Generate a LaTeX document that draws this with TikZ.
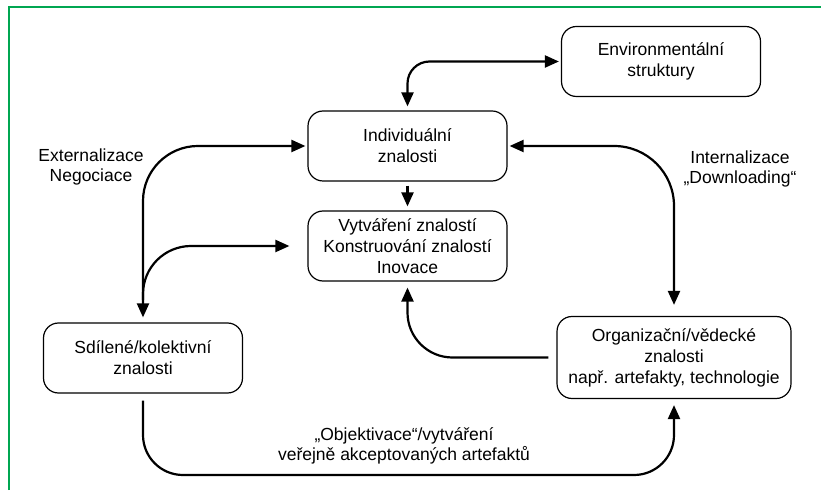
\documentclass[tikz,border=0pt]{standalone}
\usepackage{fontspec}
\setmainfont{Liberation Sans}
\usetikzlibrary{arrows.meta,positioning}
\usepackage{xcolor}
\definecolor{framegreen}{RGB}{0,166,81}

\begin{document}
\begin{tikzpicture}[x=1pt,y=1pt,
  box/.style={draw=black,line width=1.2pt,rectangle,rounded corners=15pt,
              minimum width=199pt,minimum height=70pt,align=center,
              font=\fontsize{17.5}{21}\selectfont},
  lbl/.style={align=center,font=\fontsize{17.5}{20}\selectfont},
  arr/.style={-{Triangle[length=14pt,width=12pt]},line width=2.2pt},
  biarr/.style={{Triangle[length=14pt,width=12pt]}-{Triangle[length=14pt,width=12pt]},line width=2.2pt}
]
  \useasboundingbox (0,0) rectangle (821,490);
  % green frame, top and left only
  \draw[framegreen,line width=2.6pt] (9,0) -- (9,483) -- (821,483);
  % knowledge boxes
  \node[box] (env) at (661,428.5) {Environmentální\\struktury};
  \node[box] (ind) at (407.5,344) {Individuální\\znalosti};
  \node[box] (vyt) at (407.5,244) {Vytváření znalostí\\Konstruování znalostí\\Inovace};
  \node[box] (sdil) at (143,132) {Sdílené/kolektivní\\znalosti};
  \node[box,minimum width=234pt,minimum height=82pt] (org) at (674,132.5)
       {Organizační/vědecké\\znalosti\\např. artefakty, technologie};
  % side labels
  \node[lbl] (ext) at (91,323) {Externalizace\\Negociace};
  \node[lbl] (int) at (740,321) {Internalizace\\„Downloading“};
  \node[lbl] (obj) at (404,44) {„Objektivace“/vytváření\\veřejně akceptovaných artefaktů};
  % helper points
  \coordinate (fork) at (143,190);
  \coordinate (low) at (0,15);
  % flows
  \draw[biarr,rounded corners=22pt,shorten <=4pt,shorten >=2pt] (ind.north) |- (env.west);
  \draw[arr,shorten <=4pt,shorten >=4pt] (ind.south) -- (vyt.north);
  \draw[biarr,rounded corners=55pt,shorten <=5pt,shorten >=2pt] (sdil.north) |- (ind.west);
  \draw[arr,rounded corners=48pt,shorten >=18pt] (fork) |- (vyt.west);
  \draw[biarr,rounded corners=60pt,shorten <=2pt,shorten >=11pt] (ind.east) -| (org.north);
  \draw[arr,rounded corners=45pt,shorten <=8pt,shorten >=6pt] (org.west) -| (vyt.south);
  \draw[arr,rounded corners=40pt,shorten <=7pt,shorten >=6pt]
       (sdil.south) -- (sdil.south |- low) -| (org.south);
\end{tikzpicture}
\end{document}
